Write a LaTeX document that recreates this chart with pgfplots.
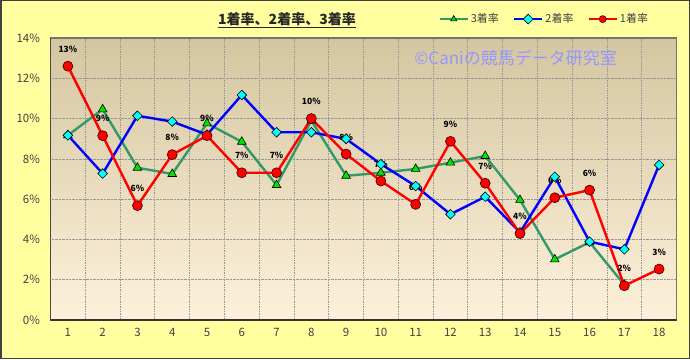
\documentclass[border=0pt]{standalone}
\usepackage{fontspec}
\setmainfont{Noto Sans CJK JP}
\usepackage{pgfplots}
\pgfplotsset{compat=1.18}
\definecolor{bgY}{RGB}{255,255,160}
\definecolor{pTop}{RGB}{212,198,160}
\definecolor{pBot}{RGB}{253,241,219}
\definecolor{gLine}{RGB}{51,153,102}
\definecolor{gFill}{RGB}{0,230,0}
\definecolor{cyanF}{RGB}{0,255,255}
\definecolor{wm}{RGB}{150,150,255}
\definecolor{gridc}{RGB}{150,150,150}
\begin{document}
\begin{tikzpicture}
\draw[fill=bgY, draw=black!75, line width=1.5pt] (0.75pt,0.75pt) rectangle (689.25pt,358.25pt);
\node[font=\fontsize{14}{15}\selectfont\bfseries, text=black!85] at (287pt,339pt) {\underline{1着率、2着率、3着率}};
\begin{axis}[
 at={(50.5pt,39pt)}, anchor=south west,
 scale only axis, width=626pt, height=282pt,
 xmin=0.5, xmax=18.5, ymin=0, ymax=14,
 xtick={1,...,18}, ytick={0,2,...,14},
 minor xtick={1.5,2.5,...,17.5},
 xminorgrids, ymajorgrids,
 major tick length=0pt, minor tick length=0pt,
 grid style={densely dotted, gridc, line width=0.7pt},
 minor grid style={densely dotted, gridc, line width=0.7pt},
 axis background/.style={top color=pTop, bottom color=pBot},
 axis line style={draw=gray!90!black, line width=1.2pt},
 /pgf/number format/assume math mode=true,
 yticklabel={\pgfmathprintnumber{\tick}\%},
 ticklabel style={font=\fontsize{11.5}{12}\selectfont, text=black!75},
 xticklabel style={yshift=-5pt},
 yticklabel style={xshift=-7pt},
 legend style={at={(0.958,1.067)}, anchor=east, draw=none, fill=none, legend columns=3,
   font=\fontsize{11}{12}\selectfont, text=black!75, inner sep=0pt,
   /tikz/every even column/.append style={column sep=12pt}},
 legend image code/.code={\draw[mark repeat=2,mark phase=2, mark size=3.5pt] plot coordinates {(0pt,0pt) (14pt,0pt) (28pt,0pt)};},
]
\node[font=\fontsize{17}{18}\selectfont, text=wm, anchor=center] at (rel axis cs:0.743,0.929) {©Caniの競馬データ研究室};
% data labels of 1着率 (drawn beneath the series)
\addplot[forget plot, only marks, mark=*, mark size=0pt, mark options={draw=none, fill=none},
  nodes near coords={\pgfmathprintnumber[fixed,precision=0]{\pgfplotspointmeta}\%},
  every node near coord/.append style={font=\fontsize{8.5}{9}\selectfont\bfseries, anchor=center, yshift=17pt, text=black}]
 coordinates {(1,12.6) (2,9.15) (3,5.68) (4,8.21) (5,9.15) (6,7.31) (7,7.31) (8,10.0) (9,8.24) (10,6.9) (11,5.74) (12,8.87) (13,6.79) (14,4.29) (15,6.07) (16,6.45) (17,1.70) (18,2.53)};
\addplot[gLine, line width=2.4pt, mark=triangle*, mark size=5pt, mark options={fill=gFill, draw=black, line width=0.6pt, solid}]
 coordinates {(1,9.17) (2,10.46) (3,7.56) (4,7.25) (5,9.76) (6,8.85) (7,6.70) (8,9.9) (9,7.16) (10,7.31) (11,7.50) (12,7.81) (13,8.14) (14,5.96) (15,3.01) (16,3.86) (17,1.75)};
\addlegendentry{3着率}
\addplot[blue, line width=2.4pt, mark=square*, mark size=3.4pt, mark options={fill=cyanF, draw=black, line width=0.6pt, solid, rotate=45}]
 coordinates {(1,9.17) (2,7.27) (3,10.14) (4,9.85) (5,9.2) (6,11.17) (7,9.32) (8,9.32) (9,8.99) (10,7.74) (11,6.65) (12,5.25) (13,6.12) (14,4.35) (15,7.11) (16,3.89) (17,3.51) (18,7.70)};
\addlegendentry{2着率}
\addplot[red, line width=2.4pt, mark=*, mark size=5pt, mark options={fill=red, draw=black!80!red, line width=0.6pt, solid}]
 coordinates {(1,12.6) (2,9.15) (3,5.68) (4,8.21) (5,9.15) (6,7.31) (7,7.31) (8,10.0) (9,8.24) (10,6.9) (11,5.74) (12,8.87) (13,6.79) (14,4.29) (15,6.07) (16,6.45) (17,1.70) (18,2.53)};
\addlegendentry{1着率}
\draw[black!80, line width=1.5pt] (rel axis cs:0,1) -- (rel axis cs:0,0) -- (rel axis cs:1,0);
\end{axis}
\pgfresetboundingbox
\path (0pt,0pt) rectangle (690pt,359pt);
\end{tikzpicture}
\end{document}
